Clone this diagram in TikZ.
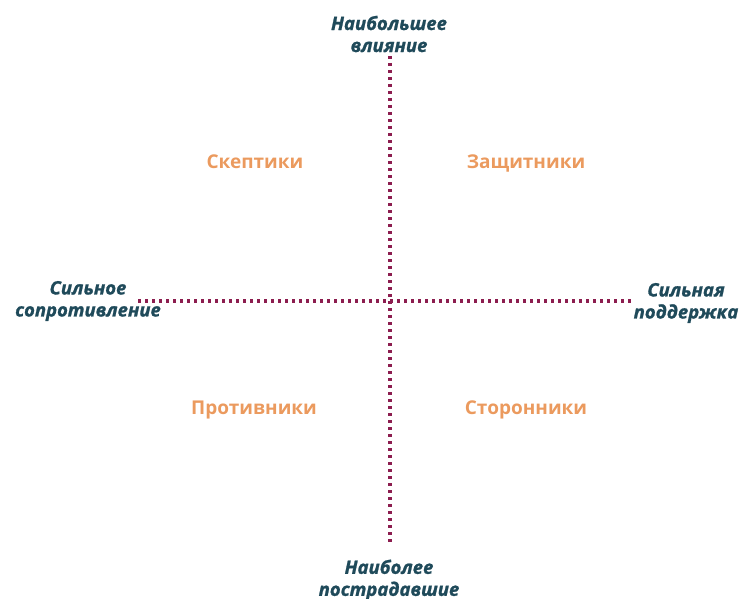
\documentclass[tikz,border=0pt]{standalone}
\usepackage{fontspec}
\setmainfont{Open Sans}[BoldItalicFeatures={FakeBold=1.2}]
\definecolor{axiscol}{HTML}{8C1D4F}
\definecolor{axistext}{HTML}{1F4A5A}
\definecolor{quadtext}{HTML}{EB9A5E}
\tikzset{
  axislabel/.style={text=axistext, font=\fontsize{18.5}{22}\selectfont\bfseries\itshape, align=center, inner sep=0pt},
  quadlabel/.style={text=quadtext, font=\fontsize{19}{22}\selectfont\bfseries, inner sep=0pt},
  axisline/.style={axiscol, line width=3.4pt, dash pattern=on 3.4pt off 3.6pt}
}
\begin{document}
\begin{tikzpicture}[x=1pt,y=-1pt]
        \useasboundingbox (0,0) rectangle (741,599);

        \coordinate (N) at (390,56);
        \coordinate (S) at (390,545);
        \coordinate (W) at (138,301);
        \coordinate (E) at (632,301);

        \node[axislabel] (influence) at (389,34) {Наибольшее\\влияние};
        \node[axislabel] (affected) at (389,580) {Наиболее\\пострадавшие};
        \node[axislabel] (resist) at (88,301) {Сильное\\сопротивление};
        \node[axislabel] (support) at (686,303) {Сильная\\поддержка};

        \node[quadlabel] (sceptics) at (255,162) {Скептики};
        \node[quadlabel] (defenders) at (526,163) {Защитники};
        \node[quadlabel] (opponents) at (254,410) {Противники};
        \node[quadlabel] (supporters) at (526,410) {Сторонники};

        \draw[axisline] (N) -- (S);
        \draw[axisline] (W) -- (E);
    \end{tikzpicture}
\end{document}
